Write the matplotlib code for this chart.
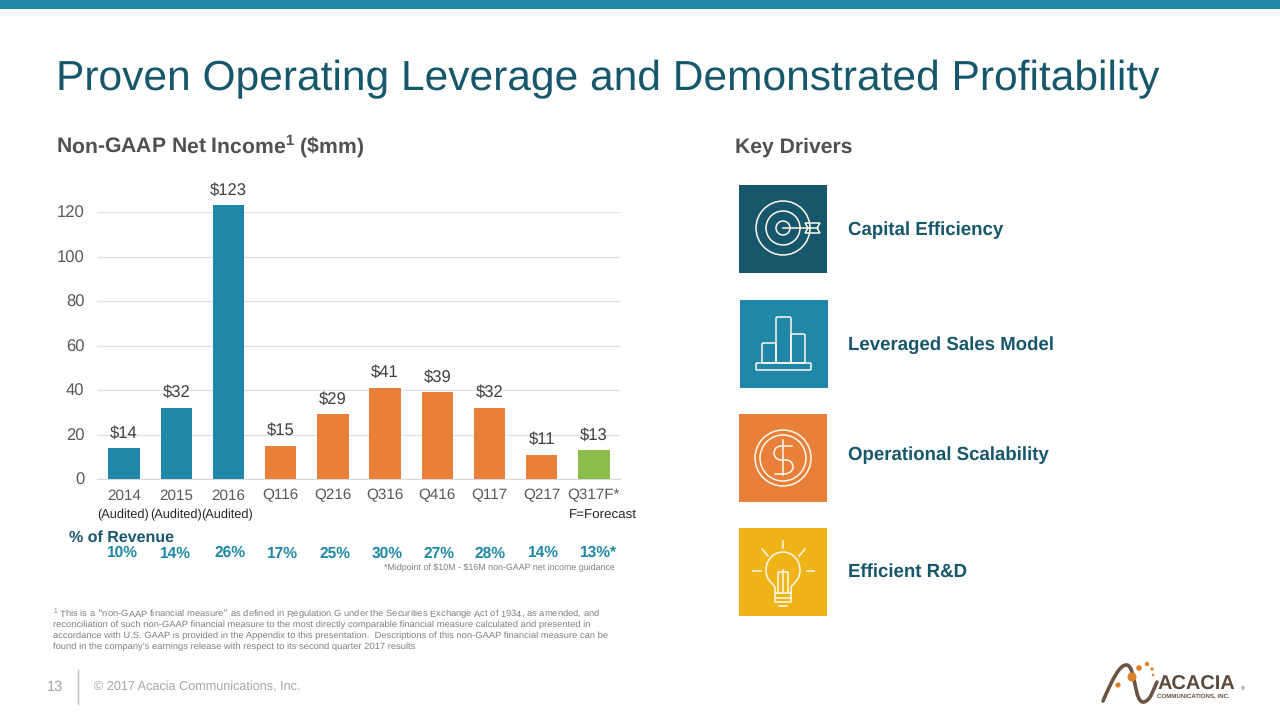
import numpy as np
import matplotlib
matplotlib.use('Agg')
import matplotlib.pyplot as plt
from matplotlib.patches import Circle, Rectangle, FancyBboxPatch, Arc, Polygon, PathPatch
from matplotlib.path import Path

plt.rcParams['font.family'] = ['Liberation Sans', 'DejaVu Sans']
plt.rcParams['text.hinting'] = 'no_hinting'

periods = ['2014', '2015', '2016', 'Q116', 'Q216', 'Q316', 'Q416', 'Q117', 'Q217', 'Q317F*']
net_income = [14, 32, 123, 15, 29, 41, 39, 32, 11, 13]
value_labels = ['$14', '$32', '$123', '$15', '$29', '$41', '$39', '$32', '$11', '$13']
pct_revenue = ['10%', '14%', '26%', '17%', '25%', '30%', '27%', '28%', '14%', '13%*']
y_ticks = [0, 20, 40, 60, 80, 100, 120]
drivers = ['Capital Efficiency', 'Leveraged Sales Model', 'Operational Scalability', 'Efficient R&D']

TEAL = '#1F88A9'
DARK = '#17576B'
GREY = '#505050'
ORANGE = '#E8803A'
GREEN = '#8ABD4A'
YELLOW = '#EFB417'
bar_colors = [TEAL] * 3 + [ORANGE] * 6 + [GREEN]

fig = plt.figure(figsize=(12.8, 7.2), dpi=100, facecolor='white')

# full slide overlay in pixel coordinates
bg = fig.add_axes([0, 0, 1, 1])
bg.set_xlim(0, 1280)
bg.set_ylim(720, 0)
bg.axis('off')


def txt(x, y, s, size, color='#404040', weight='normal', ha='left', va='center', **kw):
    bg.text(x, y, s, fontsize=size, color=color, fontweight=weight, ha=ha, va=va, **kw)


bg.add_patch(Rectangle((0, 0), 1280, 9, color=TEAL, lw=0))
txt(56, 90, 'Proven Operating Leverage and Demonstrated Profitability', 30.6, color=DARK, va='baseline')
txt(56, 146, r'Non-GAAP Net Income$^{\mathregular{1}}$ (\$mm)', 15.2, color=GREY, weight='bold')
txt(735, 147, 'Key Drivers', 15.2, color=GREY, weight='bold')

# chart
ax = fig.add_axes([97 / 1280, 1 - 479 / 720, 523 / 1280, 267 / 720])
x = np.arange(len(periods))
ax.bar(x, net_income, width=0.6, color=bar_colors, clip_on=False, zorder=3)
ax.set_xlim(-0.52, 9.5)
ax.set_ylim(0, 120)
ax.set_yticks(y_ticks)
ax.set_xticks(x)
ax.set_xticklabels(periods)
ax.tick_params(axis='x', length=0, labelsize=11, labelcolor='#595959', pad=7)
ax.tick_params(axis='y', length=0, labelsize=12, labelcolor='#595959', pad=9)
ax.grid(axis='y', color='#E2E2E2', lw=1, zorder=0)
ax.set_axisbelow(True)
for side in ['top', 'left', 'right']:
    ax.spines[side].set_visible(False)
ax.spines['bottom'].set_color('#D9D9D9')
for xi, v, label in zip(x, net_income, value_labels):
    ax.annotate(label, (xi, v), xytext=(0, 5), textcoords='offset points', ha='center', va='bottom',
                fontsize=12, color='#404040', annotation_clip=False)

# below the axis
for xc in [123, 176, 227]:
    txt(xc, 515, '(Audited)', 9.2, color='#262626', ha='center')
txt(603, 516, 'F=Forecast', 9.6, color='#262626', ha='center')
txt(69, 538, '% of Revenue', 11.5, color=DARK, weight='bold')
pct_x = [122, 175, 230, 282, 335, 387, 439, 490, 543, 598]
pct_y = [553, 554, 553, 554, 554, 554, 554, 554, 553, 553]
for px, py, s in zip(pct_x, pct_y, pct_revenue):
    txt(px, py, s, 11.2, color=TEAL, weight='bold', ha='center')
txt(615, 568, r'*Midpoint of \$10M - \$16M non-GAAP net income guidance', 6.4, color='#7F7F7F', ha='right')

# footnote
foot = [
    (r'$^{\mathregular{1}}$ This is a “non-GAAP financial measure” as defined in Regulation G under the '
     'Securities Exchange Act of 1934, as amended, and'),
    'reconciliation of such non-GAAP financial measure to the most directly comparable financial measure calculated and presented in',
    'accordance with U.S. GAAP is provided in the Appendix to this presentation.  Descriptions of this non-GAAP financial measure can be',
    'found in the company’s earnings release with respect to its second quarter 2017 results',
]
for i, line in enumerate(foot):
    txt(53, 614 + i * 11, line, 6.75, color='#7F7F7F')

# footer
txt(47, 687, '13', 10.5, color='#A6A6A6')
bg.plot([78, 78], [670, 704], color='#BFBFBF', lw=1)
txt(94, 687, '© 2017 Acacia Communications, Inc.', 9.1, color='#A6A6A6')

# key driver tiles
W = '#FFF8EE'
LW = 1.1
tiles = [(739, 185, DARK), (740, 300, TEAL), (739, 414, ORANGE), (739, 528, YELLOW)]
for tx, ty, c in tiles:
    bg.add_patch(Rectangle((tx, ty), 88, 87.5, color=c, lw=0))
for label, ly in zip(drivers, [230, 345, 455, 572]):
    txt(848, ly, label, 13.4, color=DARK, weight='bold')

# target
for r in [27, 17, 7]:
    bg.add_patch(Circle((783, 228), r, fill=False, ec=W, lw=LW))
bg.plot([783, 806], [228, 228], color=W, lw=LW)
bg.add_patch(Polygon([[805, 223], [820, 223], [817, 228], [820, 233], [805, 233], [808, 228]],
                     fill=False, ec=W, lw=LW))
bg.plot([807, 818], [228, 228], color=W, lw=LW)

# bars icon
for bx, by, bw, bh in [(762, 343, 14, 20), (776, 317, 15, 46), (791, 334, 14, 29)]:
    bg.add_patch(FancyBboxPatch((bx, by), bw, bh, boxstyle='round,pad=0,rounding_size=1.5', fill=False, ec=W, lw=LW))
bg.add_patch(FancyBboxPatch((756, 363), 55, 7, boxstyle='round,pad=0,rounding_size=1', fill=False, ec=W, lw=LW))

# dollar coin
for r in [28, 23]:
    bg.add_patch(Circle((783, 458), r, fill=False, ec=W, lw=LW))
bg.plot([783, 783], [440, 475], color=W, lw=LW)
bg.plot([792, 781], [446, 446], color=W, lw=LW)
bg.plot([781, 786], [460, 460], color=W, lw=LW)
bg.plot([786, 775], [473.5, 473.5], color=W, lw=LW)
bg.add_patch(Arc((781, 453), 14, 14, theta1=90, theta2=270, ec=W, lw=LW))
bg.add_patch(Arc((786, 466.7), 14, 13.5, theta1=270, theta2=90, ec=W, lw=LW))

# bulb
bg.add_patch(Arc((783, 570), 34, 36, theta1=145, theta2=395, ec=W, lw=LW))
bg.plot([769, 775, 775, 791, 791, 797], [580, 587, 593, 593, 587, 580], color=W, lw=LW)
bg.plot([778, 778, 788, 788], [593, 572, 572, 593], color=W, lw=LW)
bg.plot([783, 783], [570, 593], color=W, lw=LW)
bg.plot([775, 791], [598, 598], color=W, lw=LW)
bg.plot([775, 775, 791, 791], [593, 602, 602, 593], color=W, lw=LW)
bg.plot([779, 787], [606, 606], color=W, lw=LW)
for x0, y0, x1, y1 in [(783, 541, 783, 548), (762, 549, 768, 556), (805, 549, 799, 556),
                       (753, 571, 761, 571), (807, 571, 814, 571)]:
    bg.plot([x0, x1], [y0, y1], color=W, lw=LW)

# logo, drawn roughly
BROWN = '#6B5444'
swoosh = Path([(1103, 701), (1113, 678), (1120, 664), (1127, 665),
               (1136, 667), (1134, 704), (1144, 702),
               (1151, 700), (1153, 690), (1157, 682)],
              [Path.MOVETO] + [Path.CURVE4] * 9)
bg.add_patch(PathPatch(swoosh, fill=False, ec=BROWN, lw=2.6, capstyle='round'))
for cx, cy, r in [(1132, 677, 4.5), (1139, 668, 2.8), (1147, 664, 2.2), (1152, 669, 1.6),
                  (1153, 675, 1.3), (1118, 685, 2.6)]:
    bg.add_patch(Circle((cx, cy), r, color='#D9822B', lw=0))
txt(1157, 690, 'ACACIA', 14.4, color='#5C4A3D', weight='bold', va='baseline')
txt(1157, 698, 'COMMUNICATIONS, INC.', 4.4, color=BROWN, weight='bold', va='baseline')
txt(1241, 688, '®', 4, color=BROWN)

fig.savefig('out.png', dpi=100)
